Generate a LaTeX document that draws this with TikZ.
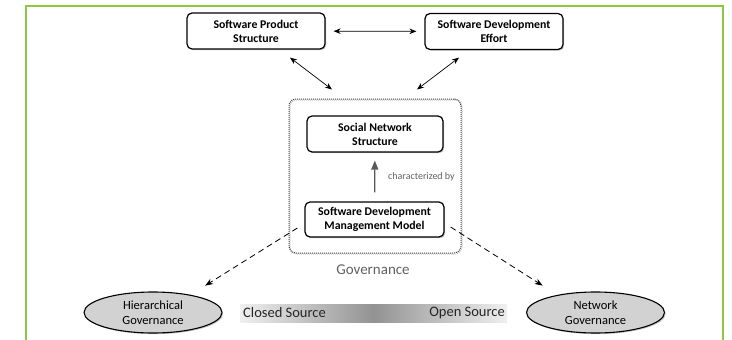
\documentclass[tikz,border=0pt]{standalone}
\usepackage{fontspec}
\setmainfont{Carlito}
\usetikzlibrary{arrows.meta,shadows,shapes.geometric}
\definecolor{framegreen}{RGB}{141,198,63}
\begin{document}
\begin{tikzpicture}[x=1pt,y=-1pt,
  shad/.style={drop shadow={shadow xshift=1.2pt,shadow yshift=-1.2pt,opacity=0.45}},
  box/.style={draw, line width=1.2pt, rounded corners=5pt, fill=white, align=center,
    font=\bfseries\fontsize{11.8}{14}\selectfont, inner sep=0pt,
    minimum width=138pt, minimum height=36pt, shad},
  ell/.style={ellipse, draw, line width=1.1pt, fill=gray!35, align=center,
    font=\fontsize{12.5}{15}\selectfont, inner sep=0pt,
    minimum width=138pt, minimum height=41pt, shad},
  govbox/.style={draw=gray!50!black, densely dotted, line width=1pt, rounded corners=7pt,
    minimum width=172pt, minimum height=154pt, inner sep=0pt},
  darr/.style={{Stealth[length=7pt,width=5.5pt]}-{Stealth[length=7pt,width=5.5pt]}, line width=0.7pt},
  uparr/.style={-{Triangle[length=9pt,width=7pt]}, line width=1.3pt, gray!70!black},
  dasharr/.style={-{Stealth[length=8pt,width=6pt]}, line width=0.8pt, dash pattern=on 6pt off 4pt},
  lbl/.style={inner sep=0pt}]
\useasboundingbox (0,0) rectangle (732,340);
% frame
\draw[framegreen, line width=1.5pt] (26,340) -- (26,6) -- (723,6) -- (723,340);
% governance box
\node[govbox, draw=gray!45, xshift=1pt, yshift=-1pt] (govs) at (375,176) {};
\node[govbox] (gov) at (375,176) {};
% boxes
\node[box] (sps) at (256,31) {Software Product\\Structure};
\node[box] (sde) at (494,31.5) {Software Development\\Effort};
\node[box, minimum width=136pt] (sns) at (375,134) {Social Network\\Structure};
\node[box, minimum width=139pt, minimum height=35pt] (sdmm) at (374.5,219.5) {Software Development\\Management Model};
% labels
\node[lbl, anchor=west, font=\fontsize{10}{12}\selectfont, text=gray!75!black] (cb) at (388,177) {characterized by};
\node[lbl, font=\fontsize{15}{17}\selectfont, text=gray!75!black] (govl) at (373,270) {Governance};
% ellipses
\node[ell] (hg) at (153,312.5) {Hierarchical\\Governance};
\node[ell] (ng) at (595.5,312.5) {Network\\Governance};
% gradient bar
\node[lbl, minimum width=267pt, minimum height=18pt, left color=gray!12, right color=gray!12, middle color=gray!85] (bar) at (373.5,313) {};
\node[lbl, anchor=west, font=\fontsize{14.5}{17}\selectfont, text=black!85] (cs) at (243,313) {Closed Source};
\node[lbl, anchor=east, font=\fontsize{14.5}{17}\selectfont, text=black!85] (os) at (505,313) {Open Source};
% connectors
\draw[darr, shorten <=8pt, shorten >=8pt] (sps) -- (sde);
\draw[darr] ([xshift=34pt,yshift=-8pt]sps.south) -- ([xshift=-43pt,yshift=9pt]gov.north);
\draw[darr] ([xshift=-35pt,yshift=-7.5pt]sde.south) -- ([xshift=42pt,yshift=9pt]gov.north);
\draw[uparr, shorten <=9pt, shorten >=8pt] (sdmm) -- (sns);
\draw[dasharr] ([xshift=-7pt,yshift=-8.5pt]sdmm.west) -- ([xshift=3pt,yshift=12pt]hg.north east);
\draw[dasharr] ([xshift=6pt,yshift=-7.5pt]sdmm.east) -- ([xshift=-3.7pt,yshift=12pt]ng.north west);
\end{tikzpicture}
\end{document}
